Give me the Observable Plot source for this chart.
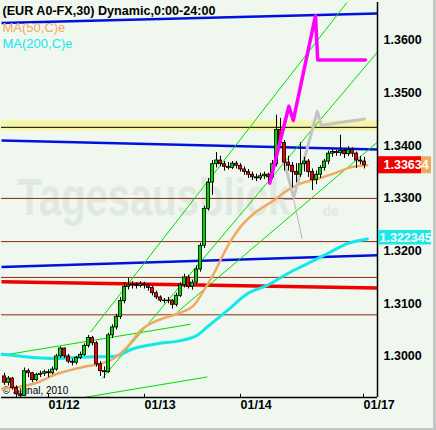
<!DOCTYPE html>
<html>
<head>
<meta charset="utf-8">
<script src="https://cdn.jsdelivr.net/npm/d3@7"></script>
<script src="https://cdn.jsdelivr.net/npm/@observablehq/plot@0.6"></script>
<style>
  body { margin: 0; background: #eef6ee; }
  #chart { position: relative; width: 436px; height: 430px; }
  #chart::after { content: ""; position: absolute; inset: 0; border-right: 3px solid #c4c8c4; border-bottom: 2px solid #c4c8c4; pointer-events: none; }
  #chart svg { display: block; }
</style>
</head>
<body>
<div id="chart"></div>
<script>
// EUR/USD 30-minute bars (one slot per bar index)
const open  = [1.2962,1.2950,1.2958,1.2940,1.2928,1.2925,1.2972,1.2968,1.2955,1.2965,1.2967,1.2970,1.2968,1.2975,1.3000,1.3015,1.3000,1.2990,1.2988,1.2997,1.3003,1.3020,1.3035,1.3025,1.2985,1.2972,1.2970,1.3040,1.3055,1.3075,1.3105,1.3132,1.3135,1.3136,1.3134,1.3137,1.3135,1.3130,1.3120,1.3112,1.3106,1.3105,1.3106,1.3098,1.3115,1.3135,1.3150,1.3132,1.3140,1.3165,1.3210,1.3280,1.3330,1.3365,1.3372,1.3365,1.3360,1.3358,1.3366,1.3362,1.3355,1.3350,1.3345,1.3340,1.3338,1.3342,1.3345,1.3340,1.3365,1.3430,1.3405,1.3368,1.3362,1.3350,1.3345,1.3365,1.3370,1.3350,1.3335,1.3345,1.3358,1.3370,1.3385,1.3388,1.3386,1.3390,1.3384,1.3392,1.3385,1.3372,1.3370];
const high  = [1.2968,1.2962,1.2960,1.2944,1.2934,1.2978,1.2976,1.2970,1.2968,1.2972,1.2974,1.2975,1.2980,1.3004,1.3018,1.3016,1.3004,1.2995,1.3000,1.3008,1.3024,1.3040,1.3038,1.3028,1.2990,1.2980,1.3044,1.3060,1.3080,1.3112,1.3140,1.3148,1.3142,1.3140,1.3142,1.3141,1.3138,1.3133,1.3124,1.3115,1.3110,1.3112,1.3108,1.3120,1.3140,1.3156,1.3154,1.3145,1.3172,1.3215,1.3285,1.3338,1.3372,1.3387,1.3380,1.3370,1.3368,1.3370,1.3370,1.3366,1.3360,1.3355,1.3350,1.3346,1.3348,1.3350,1.3348,1.3372,1.3458,1.3452,1.3410,1.3380,1.3368,1.3366,1.3406,1.3378,1.3374,1.3356,1.3352,1.3362,1.3374,1.3390,1.3394,1.3392,1.3420,1.3394,1.3398,1.3396,1.3388,1.3380,1.3378];
const low   = [1.2945,1.2944,1.2936,1.2922,1.2922,1.2924,1.2960,1.2950,1.2952,1.2960,1.2962,1.2960,1.2965,1.2972,1.2996,1.2996,1.2986,1.2982,1.2984,1.2994,1.3000,1.3016,1.3020,1.2980,1.2962,1.2958,1.2968,1.3034,1.3050,1.3070,1.3100,1.3126,1.3128,1.3128,1.3130,1.3128,1.3124,1.3115,1.3108,1.3102,1.3100,1.3100,1.3090,1.3094,1.3112,1.3130,1.3128,1.3126,1.3136,1.3160,1.3205,1.3276,1.3306,1.3358,1.3360,1.3352,1.3354,1.3355,1.3356,1.3350,1.3344,1.3338,1.3334,1.3332,1.3334,1.3336,1.3332,1.3336,1.3360,1.3395,1.3352,1.3352,1.3320,1.3330,1.3340,1.3350,1.3340,1.3315,1.3326,1.3338,1.3352,1.3364,1.3378,1.3380,1.3380,1.3376,1.3380,1.3378,1.3357,1.3364,1.3356];
const close = [1.2950,1.2958,1.2940,1.2928,1.2925,1.2972,1.2968,1.2955,1.2965,1.2967,1.2970,1.2968,1.2975,1.3000,1.3015,1.3000,1.2990,1.2988,1.2997,1.3003,1.3020,1.3035,1.3025,1.2985,1.2972,1.2970,1.3040,1.3055,1.3075,1.3105,1.3132,1.3135,1.3136,1.3134,1.3137,1.3135,1.3130,1.3120,1.3112,1.3106,1.3105,1.3106,1.3098,1.3115,1.3135,1.3150,1.3132,1.3140,1.3165,1.3210,1.3280,1.3330,1.3365,1.3372,1.3365,1.3360,1.3358,1.3366,1.3362,1.3355,1.3350,1.3345,1.3340,1.3338,1.3342,1.3345,1.3340,1.3365,1.3430,1.3405,1.3368,1.3362,1.3350,1.3345,1.3365,1.3370,1.3350,1.3335,1.3345,1.3358,1.3370,1.3385,1.3388,1.3386,1.3390,1.3384,1.3392,1.3385,1.3372,1.3370,1.3363];

// Date ticks (bar index of each session start) and their labels
const dayTicks  = [11, 35, 59, 89.75];
const dayLabels = ["01/12", "01/13", "01/14", "01/17"];
const priceTicks = [1.30, 1.31, 1.32, 1.33, 1.34, 1.35, 1.36];
const barSpan   = [-0.75, 93.25];
const priceSpan = [1.2922, 1.3672];

// Moving averages
const ma50Bars  = [-0.6,7.3,13.2,19.8,24,27.3,30.7,34,38.2,43.2,47.3,49.8,52.3,55.7,59,62.3,67.3,70.7,74,78.2,82.3,86.5,90.7];
const ma50      = [1.2939,1.2948,1.2967,1.2980,1.2986,1.2996,1.3018,1.3049,1.3068,1.3081,1.3097,1.3125,1.3157,1.3208,1.3246,1.3271,1.3296,1.3315,1.3328,1.3337,1.3347,1.3359,1.3363];
const ma200Bars = [-0.6,7.3,13.2,19.8,27.3,32.3,38.2,44,48.2,50.7,55.7,60.7,65.7,70.7,75.7,80.7,85.7,90.7];
const ma200     = [1.3004,1.2998,1.2996,1.2999,1.3000,1.3015,1.3024,1.3030,1.3040,1.3056,1.3087,1.3119,1.3135,1.3157,1.3176,1.3195,1.3214,1.3223];
const ma50Last  = "1.33634";
const ma200Last = "1.322345";

// Support / resistance levels
const brownLevels = [1.3300, 1.3218, 1.3150, 1.3079];
const yellowZone  = [1.3428, 1.3447];
const blackLevel  = 1.3435;
// Sloped levels: [barStart, priceStart, barEnd, priceEnd]
const blueLines = [[-0.75,1.3633,93.25,1.3651],[-0.75,1.3410,93.25,1.3393],[-0.75,1.3170,93.25,1.3192]];
const redLine   = [[-0.75,1.3142,93.25,1.3130]];
const greenLines = [[21.5,1.3046,85.6,1.3672],[24.4,1.2958,93.25,1.3578],[43.2,1.3084,93.25,1.3407],[-0.6,1.3002,46.5,1.3061],[19.8,1.2922,50.7,1.2961]];

// Projection paths
const magentaBars = [66.3,71.1,72.2,77.75,78.3,90.25];
const magenta     = [1.3329,1.3475,1.3448,1.3647,1.3563,1.3563];
const greyBars    = [69.6,72.3,78.2,79.2,90];
const grey        = [1.3378,1.3302,1.3465,1.3439,1.3451];
const greyThinBars = [69.8,72.3,74.4];
const greyThin     = [1.3298,1.3298,1.3224];

const font = "'Liberation Sans', Arial, sans-serif";
const bars = close.map((c, i) => ({i, o: open[i], h: high[i], l: low[i], c}));
const toSeg = a => ({x1: a[0], y1: a[1], x2: a[2], y2: a[3]});
const pts = (xs, ys) => xs.map((x, i) => ({x, y: ys[i]}));
const lastClose = close[close.length - 1];
const labelAt = new Map(dayTicks.map((t, i) => [t, dayLabels[i]]));
const xMax = barSpan[1];

const chart = Plot.plot({
  width: 436,
  height: 430,
  marginLeft: 1,
  marginRight: 59,
  marginTop: 2,
  marginBottom: 33,
  style: {background: "#eff7ef", fontFamily: font, overflow: "visible"},
  x: {domain: barSpan, axis: null},
  y: {domain: priceSpan, axis: null},
  marks: [
    // watermark
    Plot.text(["Tagesausblick"], {frameAnchor: "left", dx: 16, dy: -2, textAnchor: "start", fontSize: 40, fontWeight: "bold", fill: "#e0e9e0"}),
    Plot.text(["de"], {frameAnchor: "left", dx: 321, dy: 12, textAnchor: "start", fontSize: 14, fontWeight: "bold", fill: "#e0e9e0"}),
    Plot.text(["\u00a9 Signal, 2010"], {frameAnchor: "top-left", dx: 1, dy: 384, lineAnchor: "top", textAnchor: "start", fontSize: 10, fill: "#000"}),
    // levels
    Plot.rect([yellowZone], {x1: barSpan[0], x2: xMax, y1: d => d[0], y2: d => d[1], fill: "#f6f6a4"}),
    Plot.ruleY([blackLevel], {x1: barSpan[0], x2: xMax, stroke: "#000", strokeWidth: 1}),
    Plot.ruleY(brownLevels, {x1: barSpan[0], x2: xMax, stroke: "#8c2a10", strokeWidth: 1}),
    Plot.link(blueLines.map(toSeg), {x1: "x1", y1: "y1", x2: "x2", y2: "y2", stroke: "#0010e0", strokeWidth: 2.5}),
    Plot.link(redLine.map(toSeg), {x1: "x1", y1: "y1", x2: "x2", y2: "y2", stroke: "#f00000", strokeWidth: 3.5}),
    Plot.link(greenLines.map(toSeg), {x1: "x1", y1: "y1", x2: "x2", y2: "y2", stroke: "#00dd00", strokeWidth: 1}),
    // moving averages
    Plot.line(pts(ma200Bars, ma200), {x: "x", y: "y", stroke: "#10e8ec", strokeWidth: 3, curve: "monotone-x"}),
    Plot.line(pts(ma50Bars, ma50), {x: "x", y: "y", stroke: "#f2a860", strokeWidth: 2.5, curve: "monotone-x"}),
    // grey projections
    Plot.line(pts(greyThinBars, greyThin), {x: "x", y: "y", stroke: "#b4b4b4", strokeWidth: 1}),
    Plot.line(pts(greyBars, grey), {x: "x", y: "y", stroke: "#c4c4c4", strokeWidth: 3}),
    // candles
    Plot.ruleX(bars, {x: "i", y1: "l", y2: "h", stroke: "#000", strokeWidth: 1}),
    Plot.rect(bars, {x1: d => d.i - 0.4, x2: d => d.i + 0.4, y1: "o", y2: "c", fill: d => d.c >= d.o ? "#00d400" : "#ee0000", stroke: "#000", strokeWidth: 0.8}),
    // magenta projection
    Plot.line(pts(magentaBars, magenta), {x: "x", y: "y", stroke: "#ff00ff", strokeWidth: 3.5}),
    // frame lines and ticks
    Plot.ruleX([xMax], {stroke: "#000", strokeWidth: 1.5}),
    Plot.ruleY([priceSpan[0]], {stroke: "#000", strokeWidth: 1.5}),
    Plot.ruleX(dayTicks, {y1: priceSpan[0], y2: priceSpan[0] + 0.0006, stroke: "#000"}),
    Plot.axisY(priceTicks, {anchor: "right", tickSize: 0, tickPadding: 6, tickFormat: d => d.toFixed(4), fontSize: 12.5, fontWeight: "bold", fill: "#000", label: null}),
    Plot.axisX(dayTicks, {anchor: "bottom", tickSize: 0, tickPadding: 3, tickFormat: d => labelAt.get(d), textAnchor: "start", fontSize: 12.5, fontWeight: "bold", fill: "#000", label: null}),
    // legend texts
    Plot.text(["(EUR A0-FX,30) Dynamic,0:00-24:00"], {frameAnchor: "top-left", dx: 1, dy: 4, lineAnchor: "top", textAnchor: "start", fontSize: 12.6, fontWeight: "bold", fill: "#000"}),
    Plot.text(["MA(50,C)e"], {frameAnchor: "top-left", dx: 1, dy: 20, lineAnchor: "top", textAnchor: "start", fontSize: 13, fill: "#f2a860"}),
    Plot.text(["MA(200,C)e"], {frameAnchor: "top-left", dx: 1, dy: 36, lineAnchor: "top", textAnchor: "start", fontSize: 13, fill: "#10e8ec"}),
    // value boxes on the price axis
    Plot.rect([ma200[ma200.length - 1]], {x1: xMax, x2: xMax, y1: d => d, y2: d => d, insetLeft: 1, insetRight: -54, insetTop: -8.5, insetBottom: -6, fill: "#1ce8e8"}),
    Plot.text([ma200Last], {x: xMax, y: ma200[ma200.length - 1], dx: 2, dy: -1, textAnchor: "start", fontSize: 12.5, fontWeight: "bold", fill: "#fff"}),
    Plot.rect([ma50[ma50.length - 1]], {x1: xMax, x2: xMax, y1: d => d, y2: d => d, insetLeft: 1, insetRight: -54, insetTop: -8.5, insetBottom: -8.5, fill: "#f2a860"}),
    Plot.text([ma50Last], {x: xMax, y: ma50[ma50.length - 1], dx: 6, textAnchor: "start", fontSize: 12.5, fontWeight: "bold", fill: "#fff"}),
    Plot.rect([lastClose], {x1: xMax, x2: xMax, y1: d => d, y2: d => d, insetLeft: 1, insetRight: -44, insetTop: -8.5, insetBottom: -8.5, fill: "#f00000"}),
    Plot.text([lastClose.toFixed(4)], {x: xMax, y: lastClose, dx: 6, textAnchor: "start", fontSize: 12.5, fontWeight: "bold", fill: "#fff"})
  ]
});

// stretch the watermark letters vertically about their own anchor
d3.select(chart).selectAll("text")
  .filter(function () { return this.textContent === "Tagesausblick"; })
  .each(function () {
    const t = this.getAttribute("transform") || "";
    this.setAttribute("transform", t + " scale(1,1.3)");
  });

document.getElementById("chart").appendChild(chart);
</script>
</body>
</html>
